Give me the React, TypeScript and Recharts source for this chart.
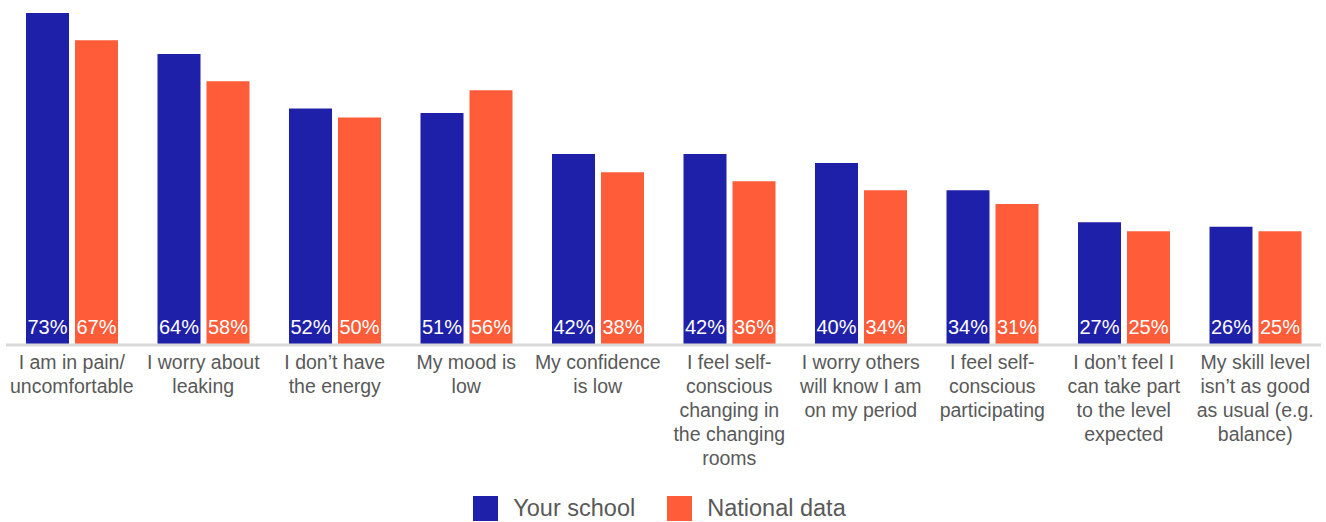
import { BarChart, Bar, XAxis, YAxis, Legend, LabelList } from "recharts";

const categories = [
  ["I am in pain/", "uncomfortable"],
  ["I worry about", "leaking"],
  ["I don’t have", "the energy"],
  ["My mood is", "low"],
  ["My confidence", "is low"],
  ["I feel self-", "conscious", "changing in", "the changing", "rooms"],
  ["I worry others", "will know I am", "on my period"],
  ["I feel self-", "conscious", "participating"],
  ["I don’t feel I", "can take part", "to the level", "expected"],
  ["My skill level", "isn’t as good", "as usual (e.g.", "balance)"],
];
const yourSchool = [73, 64, 52, 51, 42, 42, 40, 34, 27, 26];
const nationalData = [67, 58, 50, 56, 38, 36, 34, 31, 25, 25];

const BLUE = "#1F20A9";
const ORANGE = "#FF5C39";
const FONT = "'Liberation Sans', Arial, sans-serif";

const data = categories.map((lines, i) => ({
  name: lines.join(" "),
  school: yourSchool[i],
  national: nationalData[i],
}));

const CategoryTick = ({ x, y, index }: any) => {
  const lines = categories[index] || [];
  return (
    <text
      x={x}
      y={y}
      textAnchor="middle"
      fill="#595959"
      fontSize={19.5}
      fontFamily={FONT}
    >
      {lines.map((line, i) => (
        <tspan key={i} x={x} dy={24}>
          {line}
        </tspan>
      ))}
    </text>
  );
};

const ValueLabel = ({ x, y, width, height, value }: any) => (
  <text
    x={x + width / 2}
    y={y + height - 11}
    textAnchor="middle"
    fill="#ffffff"
    fontSize={20}
    fontFamily={FONT}
  >
    {value}%
  </text>
);

const LegendBox = () => (
  <div
    style={{
      display: "flex",
      justifyContent: "center",
      alignItems: "center",
      height: 27,
      fontFamily: FONT,
      fontSize: 23.5,
      color: "#595959",
      paddingRight: 8,
    }}
  >
    <span style={{ width: 25, height: 25, background: BLUE, marginRight: 15 }} />
    <span style={{ marginRight: 32 }}>Your school</span>
    <span style={{ width: 25, height: 25, background: ORANGE, marginRight: 15 }} />
    <span>National data</span>
  </div>
);

export default function App() {
  return (
    <div style={{ position: "absolute", left: 0, top: 0, background: "#fff" }}>
      <BarChart
        width={1326}
        height={522}
        data={data}
        margin={{ top: 13, right: 5, left: 6, bottom: 0 }}
        barSize={43}
        barGap={6}
      >
        <YAxis hide domain={[0, 73]} />
        <XAxis
          dataKey="name"
          interval={0}
          height={150}
          tickSize={0}
          tickMargin={0}
          tickLine={false}
          axisLine={{ stroke: "#d9d9d9", strokeWidth: 3 }}
          tick={<CategoryTick />}
        />
        <Legend verticalAlign="bottom" content={<LegendBox />} />
        <Bar dataKey="school" fill={BLUE} isAnimationActive={false}>
          <LabelList dataKey="school" content={<ValueLabel />} />
        </Bar>
        <Bar dataKey="national" fill={ORANGE} isAnimationActive={false}>
          <LabelList dataKey="national" content={<ValueLabel />} />
        </Bar>
      </BarChart>
    </div>
  );
}
